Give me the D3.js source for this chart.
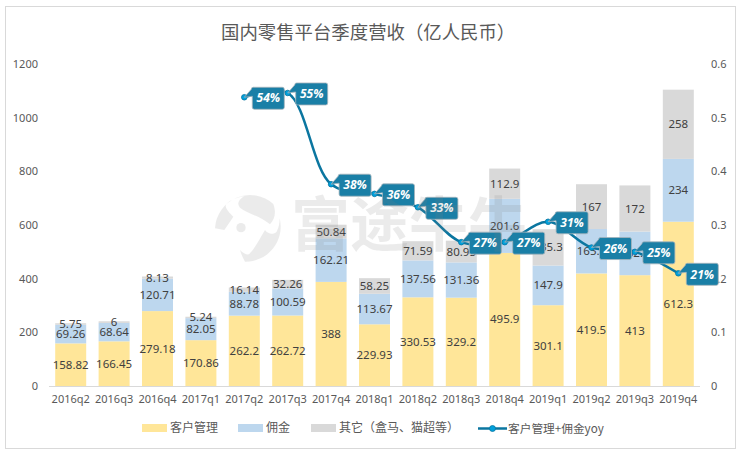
<!DOCTYPE html>
<html>
<head>
<meta charset="utf-8">
<script src="https://d3js.org/d3.v7.min.js"></script>
<style>
    html, body { margin: 0; padding: 0; background: #fff; }
    text { font-family: "Noto Sans", "Noto Sans CJK SC", sans-serif; }
    .cjk { font-family: "Noto Sans CJK SC", sans-serif; }
</style>
</head>
<body>
<svg id="chart" width="743" height="453"></svg>
<script>
// values
const quarters = ["2016q2", "2016q3", "2016q4", "2017q1", "2017q2", "2017q3", "2017q4", "2018q1",
    "2018q2", "2018q3", "2018q4", "2019q1", "2019q2", "2019q3", "2019q4"];
const customerMgmt = [158.82, 166.45, 279.18, 170.86, 262.2, 262.72, 388, 229.93, 330.53, 329.2, 495.9, 301.1, 419.5, 413, 612.3];
const commission = [69.26, 68.64, 120.71, 82.05, 88.78, 100.59, 162.21, 113.67, 137.56, 131.36, 201.6, 147.9, 165.5, 162.5, 234];
const others = [5.75, 6, 8.13, 5.24, 16.14, 32.26, 50.84, 58.25, 71.59, 80.95, 112.9, 135.3, 167, 172, 258];
const yoyQuarters = quarters.slice(4);
const yoy = [0.538, 0.546, 0.376, 0.358, 0.333, 0.268, 0.268, 0.306, 0.258, 0.25, 0.21];
const yoyLabels = ["54%", "55%", "38%", "36%", "33%", "27%", "27%", "31%", "26%", "25%", "21%"];
const leftTicks = [0, 200, 400, 600, 800, 1000, 1200];
const rightTicks = [0, 0.1, 0.2, 0.3, 0.4, 0.5, 0.6];
const seriesNames = ["客户管理", "佣金", "其它（盒马、猫超等）"];
const seriesColors = ["#ffe699", "#bdd7ee", "#d9d9d9"];

let svg = d3.select("#chart");

// outer frame
svg.append("rect")
    .attr("x", 5.5).attr("y", 6.5)
    .attr("width", 730).attr("height", 442)
    .attr("fill", "#fff")
    .attr("stroke", "#d9d9d9");

svg.append("text")
    .attr("class", "cjk")
    .attr("x", 221).attr("y", 39)
    .attr("font-size", 18.4)
    .attr("fill", "#595959")
    .text("国内零售平台季度营收（亿人民币）");

let x = d3.scaleBand().domain(quarters).range([49, 700]).paddingInner(0.286).paddingOuter(0.143);
let y = d3.scaleLinear().domain([0, 1200]).range([386, 64]);
let y2 = d3.scaleLinear().domain([0, 0.6]).range([386, 64]);

// stacked bars
let rows = quarters.map((q, i) => ({ q: q, a: customerMgmt[i], b: commission[i], c: others[i] }));
let stacked = d3.stack().keys(["a", "b", "c"])(rows);

let layers = svg.selectAll("g.layer")
    .data(stacked)
    .enter().append("g")
    .attr("class", "layer")
    .attr("fill", (d, i) => seriesColors[i]);

layers.selectAll("rect")
    .data(d => d)
    .enter().append("rect")
    .attr("x", d => x(d.data.q))
    .attr("y", d => y(d[1]))
    .attr("width", x.bandwidth())
    .attr("height", d => y(d[0]) - y(d[1]));

// axes
let axisStyle = (g) => {
    g.select(".domain").remove();
    g.selectAll("line").remove();
    g.selectAll("text").attr("fill", "#595959").attr("font-size", 11)
        .attr("font-family", "'Noto Sans', sans-serif");
};

svg.append("g")
    .attr("transform", "translate(38,0)")
    .call(d3.axisLeft(y).tickValues(leftTicks).tickFormat(d => d).tickSize(0).tickPadding(0))
    .call(axisStyle);

svg.append("g")
    .attr("transform", "translate(711,0)")
    .call(d3.axisRight(y2).tickValues(rightTicks).tickFormat(d => d).tickSize(0).tickPadding(0))
    .call(axisStyle);

svg.append("g")
    .attr("transform", "translate(0,386)")
    .call(d3.axisBottom(x).tickSize(0).tickPadding(9))
    .call(axisStyle);

svg.append("line")
    .attr("x1", 49).attr("x2", 700)
    .attr("y1", 386.5).attr("y2", 386.5)
    .attr("stroke", "#d9d9d9");

// bar value labels
layers.selectAll("text")
    .data(d => d.map(p => ({ p: p, v: p.data[d.key] })))
    .enter().append("text")
    .attr("x", d => x(d.p.data.q) + x.bandwidth() / 2)
    .attr("y", d => y((d.p[0] + d.p[1]) / 2))
    .attr("dy", ".35em")
    .attr("text-anchor", "middle")
    .attr("font-size", 11.5)
    .attr("fill", "#404040")
    .text(d => d.v);

// yoy line on the right axis
let yoyData = yoyQuarters.map((q, i) => ({ q: q, v: yoy[i], label: yoyLabels[i] }));
let cx = d => x(d.q) + x.bandwidth() / 2;

let line = d3.line()
    .x(cx)
    .y(d => y2(d.v))
    .curve(d3.curveCatmullRom.alpha(0.5));

svg.append("path")
    .attr("d", line(yoyData))
    .attr("fill", "none")
    .attr("stroke", "#0b76a0")
    .attr("stroke-width", 2.5);

svg.selectAll("circle.yoy")
    .data(yoyData)
    .enter().append("circle")
    .attr("class", "yoy")
    .attr("cx", cx)
    .attr("cy", d => y2(d.v))
    .attr("r", 2.8)
    .attr("fill", "#00a0dc")
    .attr("stroke", "#0b76a0")
    .attr("stroke-width", 0.8);

// callouts: the tip sits on the point, the box to the right of it
let calloutPath = "M0,0 L7,-8 Q7,-10 9,-10 L38,-10 Q40,-10 40,-8 L40,10 Q40,12 38,12 L10,12 Q8,12 8,10 L8,-1 Z";

let callouts = svg.selectAll("g.callout")
    .data(yoyData)
    .enter().append("g")
    .attr("class", "callout")
    .attr("transform", d => "translate(" + cx(d) + "," + y2(d.v) + ")");

callouts.append("path")
    .attr("d", calloutPath)
    .attr("fill", "#1a7fa6")
    .attr("stroke", "#a6b4bb")
    .attr("stroke-width", 0.8);

callouts.append("text")
    .attr("x", 24).attr("y", 1)
    .attr("dy", ".35em")
    .attr("text-anchor", "middle")
    .attr("font-size", 12)
    .attr("font-weight", "bold")
    .attr("font-style", "italic")
    .attr("fill", "#fff")
    .text(d => d.label);

// legend
let legendX = [142, 238, 311];
let legend = svg.selectAll("g.legend")
    .data(seriesNames)
    .enter().append("g")
    .attr("class", "legend")
    .attr("transform", (d, i) => "translate(" + legendX[i] + ",428)");

legend.append("rect")
    .attr("y", -4).attr("width", 25).attr("height", 8)
    .attr("fill", (d, i) => seriesColors[i]);

legend.append("text")
    .attr("class", "cjk")
    .attr("x", 28).attr("dy", ".36em")
    .attr("font-size", 12)
    .attr("fill", "#595959")
    .text(d => d);

let lineKey = svg.append("g").attr("transform", "translate(478,428.5)");
lineKey.append("line")
    .attr("x2", 29)
    .attr("stroke", "#0b76a0")
    .attr("stroke-width", 2.5);
lineKey.append("circle")
    .attr("cx", 14.5).attr("r", 3)
    .attr("fill", "#00a0dc")
    .attr("stroke", "#0b76a0")
    .attr("stroke-width", 0.8);
lineKey.append("text")
    .attr("class", "cjk")
    .attr("x", 30).attr("dy", ".36em")
    .attr("font-size", 11.7)
    .attr("fill", "#595959")
    .text("客户管理+佣金yoy");

// watermark sits over everything
let mark = svg.append("g").attr("fill", "#808080").attr("fill-opacity", 0.16);

let logo = mark.append("g").attr("transform", "translate(205,185) scale(0.3333)");
logo.append("path")
    .attr("d", "M30,130 A105,105 0 0 1 205,57 C215,85 208,105 195,118 C165,92 125,85 105,68 C95,55 100,45 118,33 C90,38 65,50 62,62 C62,72 75,85 85,95 C75,110 65,125 58,135 Z");
logo.append("path")
    .attr("d", "M224,100 A105,105 0 0 1 120,230 C112,215 108,205 105,195 C115,205 125,210 132,208 C150,190 165,160 180,135 C190,148 205,150 215,140 C222,128 224,112 224,100 Z");
logo.append("circle")
    .attr("cx", 108).attr("cy", 128).attr("r", 14);

mark.append("text")
    .attr("class", "cjk")
    .attr("x", 291).attr("y", 246)
    .attr("font-size", 59)
    .attr("font-weight", "bold")
    .text("富途牛牛");
</script>
</body>
</html>
